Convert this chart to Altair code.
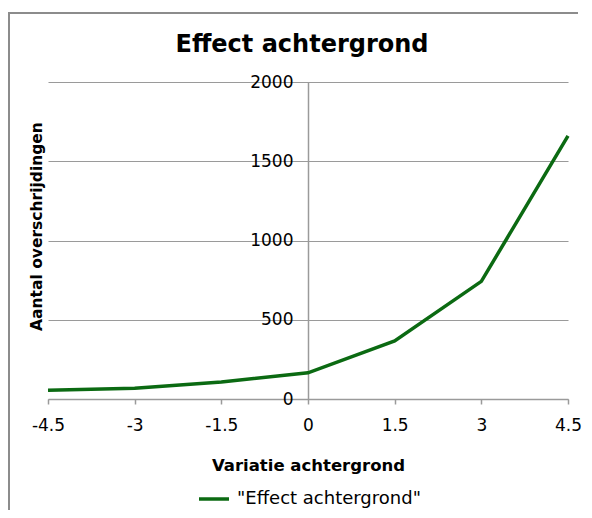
import altair as alt
import pandas as pd

x_values = [-4.5, -3, -1.5, 0, 1.5, 3, 4.5]
y_values = [55, 68, 108, 165, 366, 742, 1660]
series_name = '"Effect achtergrond"'
x_ticks = [-4.5, -3, -1.5, 0, 1.5, 3, 4.5]
y_ticks = [0, 500, 1000, 1500, 2000]

df = pd.DataFrame({"x": x_values, "y": y_values, "series": [series_name] * len(x_values)})

FONT = "DejaVu Sans"
GRAY = "#9a9a9a"
GREEN = "#0b6a12"

line = alt.Chart(df).mark_line(strokeWidth=3.5, clip=False).encode(
    x=alt.X("x:Q",
            scale=alt.Scale(domain=[-4.5, 4.5], nice=False, zero=False),
            axis=alt.Axis(values=x_ticks, labelExpr="toString(datum.value)",
                          grid=False, domainColor=GRAY, domainWidth=1.5,
                          tickColor=GRAY, tickSize=5, tickWidth=1.5,
                          labelFont=FONT, labelFontSize=17, labelColor="black",
                          labelPadding=13, labelFlush=False,
                          title="Variatie achtergrond", titleFont=FONT,
                          titleFontSize=16.5, titleFontWeight="bold", titleColor="black",
                          titleY=66, titleBaseline="middle")),
    y=alt.Y("y:Q",
            scale=alt.Scale(domain=[0, 2000], nice=False),
            axis=alt.Axis(values=y_ticks, labelExpr="toString(datum.value)",
                          offset=-260, grid=True, gridColor=GRAY,
                          gridWidth=1.2, domainColor=GRAY, domainWidth=1.5, ticks=False,
                          labelFont=FONT, labelFontSize=17, labelColor="black",
                          labelPadding=15, labelFlush=False,
                          title="Aantal overschrijdingen", titleFont=FONT,
                          titleFontSize=15.5, titleFontWeight="bold", titleColor="black",
                          titleX=-272, titleY=144, titleAngle=-90,
                          titleAlign="center", titleBaseline="middle")),
    color=alt.Color("series:N", scale=alt.Scale(range=[GREEN]),
                    legend=alt.Legend(orient="none", legendX=149, legendY=400,
                                      title=None, symbolType="stroke",
                                      symbolStrokeWidth=3.5, symbolSize=900,
                                      labelFont=FONT, labelFontSize=18, labelLimit=0,
                                      labelColor="black", labelOffset=6, padding=0)),
)

frame_df = pd.DataFrame({"a": [0]})
border_top = alt.Chart(frame_df).mark_rule(
    stroke="#8c8c8c", strokeWidth=2, clip=False
).encode(x=alt.value(-40), x2=alt.value(530), y=alt.value(-69))
border_left = alt.Chart(frame_df).mark_rule(
    stroke="#8c8c8c", strokeWidth=2, clip=False
).encode(x=alt.value(-39), y=alt.value(-70), y2=alt.value(428))

chart = alt.layer(border_top, border_left, line).properties(
    width=520,
    height=317,
    title=alt.TitleParams("Effect achtergrond", font=FONT, fontSize=24,
                          fontWeight="bold", color="black", anchor="middle",
                          frame="group", dx=-6, offset=-65, baseline="alphabetic"),
    autosize=alt.AutoSizeParams(type="none"),
    padding={"left": 40, "top": 74, "right": 16, "bottom": 111},
).configure_view(strokeWidth=0)

chart.save("out.html", embed_options={"renderer": "svg", "actions": False})
